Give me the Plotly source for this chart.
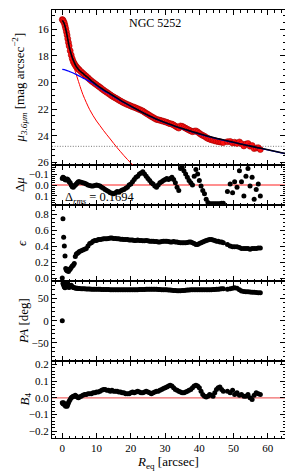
import plotly.graph_objects as go

# ---------------- data ----------------
R_iso = [0.0, 0.2, 0.4, 0.6, 0.8, 1.0, 1.2, 1.4, 1.6, 1.8, 2.0, 2.3, 2.6, 2.9, 3.2, 3.5, 3.8, 4.1, 4.4, 4.7, 5.0,
         5.5, 6.0, 6.5, 7.0, 7.5, 8.0, 8.5, 9.0, 9.5, 10.0,
         10.5, 11.0, 11.5, 12.0, 12.5, 13.0, 13.5, 14.0, 14.5, 15.0,
         15.5, 16.0, 16.5, 17.0, 17.5, 18.0, 18.5, 19.0, 19.5, 20.0,
         20.5, 21.0, 21.5, 22.0, 22.5, 23.0, 23.5, 24.0, 24.5, 25.0,
         25.5, 26.0, 26.5, 27.0, 27.5, 28.0, 28.5, 29.0, 29.5, 30.0,
         30.5, 31.0, 31.5, 32.0, 32.5, 33.0, 33.5, 34.0, 34.5, 35.0,
         35.5, 36.0, 36.5, 37.0, 37.5, 38.0, 38.5, 39.0, 39.5, 40.0,
         40.5, 41.0, 41.5, 42.0, 42.5, 43.0, 43.5, 44.0, 44.5, 45.0,
         45.5, 46.0, 46.5, 47.0,
         48.2, 49.0, 49.7, 50.3, 51.0, 51.7, 52.3, 53.0, 53.6, 54.2, 54.8, 55.4, 56.0, 56.6, 57.2, 57.8]

mu_obs = [15.29, 15.33, 15.44, 15.56, 15.75, 15.96, 16.2, 16.45, 16.73, 17.01, 17.27, 17.63, 17.95, 18.22, 18.44, 18.59, 18.72, 18.83, 18.92, 19.0, 19.08,
          19.2, 19.31, 19.43, 19.54, 19.66, 19.78, 19.89, 19.99, 20.09, 20.18,
          20.28, 20.37, 20.47, 20.57, 20.66, 20.75, 20.84, 20.93, 21.02, 21.1,
          21.17, 21.24, 21.33, 21.4, 21.47, 21.54, 21.6, 21.66, 21.71, 21.77,
          21.82, 21.87, 21.92, 21.98, 22.03, 22.09, 22.15, 22.24, 22.32, 22.4,
          22.48, 22.56, 22.63, 22.71, 22.78, 22.81, 22.84, 22.88, 22.92, 22.96,
          23.0, 23.06, 23.1, 23.13, 23.2, 23.28, 23.36, 23.43, 23.27, 23.3,
          23.37, 23.44, 23.51, 23.58, 23.64, 23.7, 23.66, 23.64, 23.72, 23.82,
          23.91, 23.98, 24.04, 24.13, 24.21, 24.26, 24.31, 24.34, 24.38, 24.42,
          24.44, 24.47, 24.49, 24.52,
          24.45, 24.43, 24.55, 24.49, 24.58, 24.47, 24.6, 24.77, 24.63, 24.59, 24.79, 24.74, 24.97, 24.92, 24.9, 25.04]

dmu = [-0.06, -0.07, -0.065, -0.06, -0.05, -0.045, -0.05, -0.055, -0.05, -0.04, -0.03, -0.02, 0.0, 0.015, 0.02, 0.01, 0.0, -0.01, -0.02, -0.03, -0.03,
       -0.025, -0.02, -0.015, -0.01, 0.0, 0.005, 0.01, 0.01, 0.005, 0.0,
       0.005, 0.01, 0.02, 0.03, 0.04, 0.05, 0.06, 0.07, 0.075, 0.08,
       0.07, 0.06, 0.065, 0.055, 0.045, 0.04, 0.03, 0.02, 0.0, -0.01,
       -0.03, -0.05, -0.07, -0.08, -0.1, -0.11, -0.12, -0.1, -0.08, -0.06,
       -0.04, -0.02, -0.01, 0.01, 0.02, 0.0, -0.02, -0.03, -0.04, -0.05,
       -0.06, -0.05, -0.06, -0.07, -0.05, -0.02, 0.02, 0.05, -0.15, -0.16,
       -0.13, -0.1, -0.07, -0.04, -0.02, 0.0, -0.08, -0.14, -0.1, -0.04,
       0.01, 0.05, 0.08, 0.13, 0.16, 0.17, 0.17, 0.17, 0.17, 0.17,
       0.17, 0.17, 0.165, 0.165,
       0.06, -0.01, 0.07, -0.03, 0.02, -0.13, -0.03, 0.10, -0.08, -0.15, 0.01, -0.07, 0.13, 0.04, -0.01, 0.10]

ellip = [0.0, 0.74, 0.51, 0.40, 0.275, 0.12, 0.1, 0.09, 0.11, 0.08, 0.1, 0.11, 0.13, 0.15, 0.16, 0.18, 0.27, 0.3, 0.31, 0.32, 0.33,
         0.34, 0.35, 0.36, 0.37, 0.4, 0.43, 0.44, 0.46, 0.47, 0.47,
         0.48, 0.48, 0.485, 0.49, 0.49, 0.49, 0.495, 0.5, 0.5, 0.495,
         0.495, 0.49, 0.49, 0.485, 0.485, 0.48, 0.48, 0.48, 0.475, 0.475,
         0.475, 0.47, 0.47, 0.475, 0.47, 0.47, 0.465, 0.465, 0.47, 0.465,
         0.46, 0.46, 0.46, 0.455, 0.455, 0.45, 0.45, 0.455, 0.46, 0.46,
         0.46, 0.455, 0.45, 0.45, 0.455, 0.45, 0.45, 0.445, 0.44, 0.44,
         0.44, 0.44, 0.445, 0.45, 0.45, 0.44, 0.43, 0.42, 0.42, 0.43,
         0.44, 0.45, 0.46, 0.47, 0.475, 0.48, 0.48, 0.475, 0.47, 0.46,
         0.46, 0.45, 0.45, 0.44,
         0.42, 0.4, 0.39, 0.39, 0.39, 0.38, 0.37, 0.37, 0.37, 0.37, 0.36, 0.37, 0.37, 0.37, 0.375, 0.375]

pa = [0, 84, 80, 76, 74, 78, 82, 84, 80, 76, 75, 78, 80, 77, 75, 74, 73.5, 73, 73, 72.5, 72.5,
      72, 72, 72, 71.5, 71.5, 71.5, 71, 71, 71, 71,
      71, 71, 70.5, 70.5, 70.5, 70.5, 70.5, 70, 70, 70,
      70, 70, 70, 70, 70, 70, 70, 70, 70, 70,
      70, 70, 70, 70, 70.5, 70.5, 70.5, 70.5, 71, 71,
      71, 71, 71, 71, 71, 70.5, 70.5, 70, 70, 70,
      69.5, 69, 69, 68.5, 68, 68, 67.5, 67.5, 67.5, 68,
      68, 68.5, 69, 69, 69.5, 70, 70, 70, 69.5, 69.5,
      69.5, 69.5, 69.5, 70, 70, 70, 70, 70.5, 70.5, 71,
      71, 71.5, 72, 72,
      71, 72, 73, 74, 73, 70, 67, 66, 65.5, 65, 64.5, 64, 64, 63.5, 63, 63]

b4 = [-0.03, -0.035, -0.03, -0.04, -0.045, -0.05, -0.045, -0.05, -0.04, -0.03, -0.02, -0.01, 0.0, 0.005, 0.01, 0.01, 0.015, 0.01, 0.005, 0.0, 0.005,
      0.01, 0.015, 0.02, 0.02, 0.025, 0.025, 0.025, 0.03, 0.03, 0.035,
      0.035, 0.04, 0.045, 0.05, 0.05, 0.045, 0.045, 0.04, 0.045, 0.04,
      0.04, 0.04, 0.035, 0.035, 0.03, 0.03, 0.025, 0.025, 0.025, 0.03,
      0.035, 0.03, 0.035, 0.04, 0.035, 0.03, 0.03, 0.035, 0.04, 0.035,
      0.03, 0.025, 0.03, 0.035, 0.04, 0.04, 0.045, 0.05, 0.055, 0.06,
      0.065, 0.07, 0.075, 0.07, 0.06, 0.05, 0.045, 0.04, 0.035, 0.03,
      0.03, 0.035, 0.04, 0.045, 0.05, 0.06, 0.07, 0.075, 0.07, 0.06,
      0.04, 0.02, 0.01, 0.005, 0.01, 0.02, 0.015, 0.01, 0.03, 0.05,
      0.06, 0.065, 0.05, 0.04,
      0.04, 0.03, 0.045, 0.02, 0.03, 0.015, 0.02, 0.01, 0.01, 0.02, 0.0, -0.01, 0.015, 0.03, 0.025, 0.02]

# model components
R_model = [0, 0.5, 1, 1.5, 2, 2.5, 3, 3.5, 4, 4.5, 5, 6, 7, 8, 9, 10, 12, 14, 16, 18, 20, 22, 24, 26, 28, 30,
           32, 34, 36, 38, 40, 42, 44, 46, 48, 50, 52, 54, 56, 58, 60, 62, 64, 65]
mu_total = [15.35, 15.56, 16.0, 16.62, 17.3, 17.8, 18.2, 18.5, 18.78, 18.96, 19.11, 19.33, 19.55, 19.77, 19.98, 20.18,
            20.54, 20.86, 21.18, 21.5, 21.78, 22.06, 22.34, 22.58, 22.81, 23.01, 23.2, 23.38, 23.54, 23.7, 23.86,
            24.0, 24.13, 24.26, 24.38, 24.5, 24.62, 24.73, 24.84, 24.95, 25.06, 25.17, 25.28, 25.33]
R_disk = [0, 1, 2, 3, 4, 5, 6, 7, 8, 9, 10, 12, 14, 16, 18, 20, 25, 30, 35, 40, 45, 50, 55, 60, 65]
mu_disk = [19.03, 19.08, 19.17, 19.28, 19.4, 19.53, 19.66, 19.8, 19.93, 20.06, 20.26, 20.6, 20.91, 21.22, 21.52,
           21.8, 22.47, 23.03, 23.48, 23.88, 24.22, 24.51, 24.79, 25.07, 25.34]
R_bulge = [0, 0.5, 1, 1.5, 2, 2.5, 3, 3.5, 4, 4.5, 5, 6, 7, 8, 9, 10, 11, 12, 13, 14, 15, 16, 17, 18, 19, 20, 21, 22]
mu_bulge = [15.35, 15.58, 16.05, 16.7, 17.4, 18.0, 18.5, 18.95, 19.35, 19.75, 20.15, 20.9, 21.5, 22.05, 22.5, 22.9,
            23.25, 23.6, 23.93, 24.25, 24.58, 24.9, 25.2, 25.5, 25.78, 26.05, 26.3, 26.55]

mu_limit = 24.8
delta_rms_text = "0.1694"
galaxy = "NGC 5252"

# ---------------- geometry (page pixels; the page body adds an 8 px offset) ----------------
OFF = 8
PL, PR, PT, PB = 52, 285, 10, 438          # plot area edges on the page
W, H = 293 - OFF, 471 - OFF
ML, MT = PL - OFF, PT - OFF
MR, MB = W - (PR - OFF), H - (PB - OFF)
PW, PH = PR - PL, PB - PT
FONT = "Liberation Serif"

def py(page_y):
    return (PB - page_y) / PH

def px(page_x):
    return (page_x - PL) / PW

dom_b4 = [0, py(361)]
dom_pa = [py(361), py(281)]
dom_e = [py(281), py(205)]
dom_dm = [py(205), py(165)]
dom_mu = [py(165), 1]

fig = go.Figure()

# panel 1: surface brightness
fig.add_trace(go.Scatter(x=R_iso, y=mu_obs, mode="markers", xaxis="x5", yaxis="y5",
                         marker=dict(color="#ff1010", size=6, line=dict(color="#a00000", width=0.6))))
fig.add_trace(go.Scatter(x=R_bulge, y=mu_bulge, mode="lines", xaxis="x5", yaxis="y5",
                         line=dict(color="#ff0000", width=1, shape="spline")))
fig.add_trace(go.Scatter(x=R_disk, y=mu_disk, mode="lines", xaxis="x5", yaxis="y5",
                         line=dict(color="#0000ff", width=1.3, shape="spline")))
fig.add_trace(go.Scatter(x=R_model, y=mu_total, mode="lines", xaxis="x5", yaxis="y5",
                         line=dict(color="#000010", width=1.6, shape="spline")))

# panel 2: residuals
fig.add_trace(go.Scatter(x=R_iso, y=dmu, mode="markers", xaxis="x4", yaxis="y4",
                         marker=dict(color="black", size=5)))
# panel 3: ellipticity
fig.add_trace(go.Scatter(x=R_iso, y=ellip, mode="markers", xaxis="x3", yaxis="y3",
                         marker=dict(color="black", size=5)))
# panel 4: PA
fig.add_trace(go.Scatter(x=R_iso, y=pa, mode="markers", xaxis="x2", yaxis="y2",
                         marker=dict(color="black", size=5)))
# panel 5: B4
fig.add_trace(go.Scatter(x=R_iso, y=b4, mode="markers", xaxis="x", yaxis="y",
                         marker=dict(color="black", size=5)))

shapes = [
    dict(type="line", xref="x5 domain", yref="y5", x0=0, x1=1, y0=mu_limit, y1=mu_limit,
         line=dict(color="#555555", width=0.8, dash="1px,1.6px"), layer="below"),
    dict(type="line", xref="x4 domain", yref="y4", x0=0, x1=1, y0=0, y1=0,
         line=dict(color="#ff2020", width=1.2), layer="below"),
    dict(type="line", xref="x domain", yref="y", x0=0, x1=1, y0=0, y1=0,
         line=dict(color="#f06868", width=1.4), layer="below"),
]

tickfont = dict(family=FONT, size=11, color="black")

def xax(anchor, labels):
    d = dict(anchor=anchor, range=[-3, 65], domain=[0, 1], showline=True, linecolor="black", linewidth=1,
             mirror="allticks", ticks="inside", ticklen=5, tickwidth=1, tickcolor="black",
             tick0=0, dtick=10, showticklabels=labels, tickfont=tickfont, showgrid=False, zeroline=False,
             minor=dict(ticks="inside", ticklen=2.5, dtick=2, tick0=0, tickcolor="black", showgrid=False))
    if anchor != "y":
        d["matches"] = "x"
    return d

def yax(anchor, domain, rng, dtick, mdtick, fmt):
    return dict(anchor=anchor, domain=domain, range=rng, showline=True, linecolor="black", linewidth=1,
                mirror="allticks", ticks="inside", ticklen=5, tickwidth=1, tickcolor="black",
                tick0=0, dtick=dtick, tickformat=fmt, tickfont=tickfont, showgrid=False, zeroline=False,
                minor=dict(ticks="inside", ticklen=2.5, dtick=mdtick, tick0=0, tickcolor="black", showgrid=False))

fig.update_layout(
    width=W, height=H, margin=dict(l=ML, r=MR, t=MT, b=MB, autoexpand=False),
    paper_bgcolor="white", plot_bgcolor="white", showlegend=False,
    font=dict(family=FONT, color="black"),
    xaxis=xax("y", True), xaxis2=xax("y2", False), xaxis3=xax("y3", False),
    xaxis4=xax("y4", False), xaxis5=xax("y5", False),
    yaxis=yax("x", dom_b4, [-0.24, 0.22], 0.1, 0.02, ".1f"),
    yaxis2=yax("x2", dom_pa, [-91, 89.5], 50, 10, "d"),
    yaxis3=yax("x3", dom_e, [-0.0375, 0.9125], 0.2, 0.05, ".1f"),
    yaxis4=yax("x4", dom_dm, [0.182, -0.182], 0.1, 0.02, ".1f"),
    yaxis5=yax("x5", dom_mu, [26.2, 14.57], 2, 0.5, "d"),
    shapes=shapes,
)

ann = [
    ("<i>μ</i><sub><i>3.6μm</i></sub> [mag arcsec<sup>−2</sup>]", 19, dom_mu),
    ("Δ<i>μ</i>", 19, dom_dm),
    ("<i>ϵ</i>", 21, dom_e),
    ("<i>PA</i> [deg]", 23, dom_pa),
    ("<i>B</i><sub>4</sub>", 25, dom_b4),
]
annotations = []
for text, xpix, dom in ann:
    annotations.append(dict(text=text, x=px(xpix), y=(dom[0] + dom[1]) / 2, xref="paper", yref="paper",
                            textangle=-90, showarrow=False, xanchor="center", yanchor="middle",
                            font=dict(family=FONT, size=13, color="black")))
annotations.append(dict(text="<i>R</i><sub>eq</sub> [arcsec]", x=px(168), y=py(462),
                        xref="paper", yref="paper", showarrow=False, xanchor="center", yanchor="middle",
                        font=dict(family=FONT, size=13, color="black")))
annotations.append(dict(text=galaxy, x=27.1, y=15.55, xref="x5", yref="y5", showarrow=False,
                        xanchor="center", yanchor="middle", font=dict(family=FONT, size=12, color="black")))
annotations.append(dict(text="Δ<sub><i>rms</i></sub> = " + delta_rms_text, x=0.3, y=0.12, xref="x4", yref="y4",
                        showarrow=False, xanchor="left", yanchor="middle",
                        font=dict(family=FONT, size=12.5, color="black")))
fig.update_layout(annotations=annotations)

fig.write_html("out.html")
